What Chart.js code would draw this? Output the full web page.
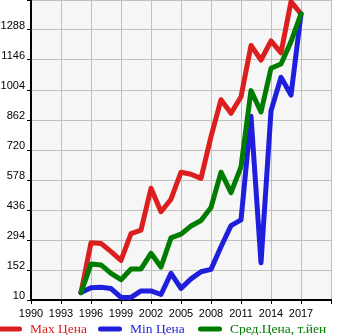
<!DOCTYPE html>
<html>
<head>
<meta charset="utf-8">
<script src="https://cdn.jsdelivr.net/npm/chart.js@4"></script>
<style>
  html, body { margin: 0; padding: 0; background: #fff; }
  #wrap { width: 345px; height: 335px; position: relative; }
</style>
</head>
<body>
<div id="wrap"><canvas id="c" width="345" height="335"></canvas></div>
<script>
// Years of the price history
const years = [1995, 1996, 1997, 1998, 1999, 2000, 2001, 2002, 2003, 2004, 2005, 2006,
               2007, 2008, 2009, 2010, 2011, 2012, 2013, 2014, 2015, 2016, 2017];

// Prices, thousand yen
const maxPrice = [45, 281, 278, 239, 197, 324, 341, 539, 428, 487, 615, 605,
                  586, 783, 958, 894, 972, 1215, 1146, 1236, 1180, 1422, 1364];
const minPrice = [45, 68, 70, 64, 22, 22, 53, 53, 36, 136, 65, 110,
                  144, 155, 262, 362, 389, 880, 186, 905, 1064, 980, 1364];
const avgPrice = [45, 180, 176, 136, 106, 157, 157, 231, 166, 304, 322, 360,
                  386, 448, 615, 518, 640, 1001, 900, 1107, 1127, 1233, 1364];

// Axis ticks
const xTicks = [1990, 1993, 1996, 1999, 2002, 2005, 2008, 2011, 2014, 2017, 2020];
const xTickLabels = ['1990', '1993', '1996', '1999', '2002', '2005', '2008', '2011', '2014', '2017', ''];
const yTicks = [10, 152, 294, 436, 578, 720, 862, 1004, 1146, 1288, 1430];
const yTickLabels = ['10', '152', '294', '436', '578', '720', '862', '1004', '1146', '1288', ''];

const seriesNames = ['Max Цена', 'Min Цена', 'Сред.Цена, т.йен'];
const seriesColors = ['#dc1e1e', '#1e1edc', '#007d00'];

const toPoints = arr => arr.map((v, i) => ({ x: years[i], y: v }));

// Light plot background
const plotBg = {
  id: 'plotBg',
  beforeDraw(chart) {
    const { ctx, chartArea: a } = chart;
    ctx.save();
    ctx.fillStyle = '#f6f6f6';
    ctx.fillRect(a.left, a.top, a.right - a.left, a.bottom - a.top);
    ctx.restore();
  }
};

// Legend row under the axis: round-capped line sample + label in each column
const lineLegend = {
  id: 'lineLegend',
  afterDraw(chart) {
    const ctx = chart.ctx;
    ctx.save();
    chart.data.datasets.forEach((ds, i) => {
      const x0 = 100 * i;
      const y = 329;
      ctx.strokeStyle = ds.borderColor;
      ctx.lineWidth = 5;
      ctx.lineCap = 'round';
      ctx.beginPath();
      ctx.moveTo(x0 + 0.5, y);
      ctx.lineTo(x0 + 19.5, y);
      ctx.stroke();
      ctx.fillStyle = ds.borderColor;
      ctx.font = '13.5px "Liberation Serif", "Times New Roman", serif';
      ctx.textBaseline = 'alphabetic';
      ctx.textAlign = 'left';
      ctx.fillText(ds.label, x0 + 30, 333);
    });
    ctx.restore();
  }
};

const makeSet = (i, data, order) => ({
  label: seriesNames[i],
  data: toPoints(data),
  borderColor: seriesColors[i],
  backgroundColor: seriesColors[i],
  borderWidth: 5,
  borderJoinStyle: 'round',
  borderCapStyle: 'round',
  pointRadius: 0,
  tension: 0,
  clip: false,
  order: order
});

new Chart(document.getElementById('c'), {
  type: 'line',
  data: {
    datasets: [
      makeSet(0, maxPrice, 2),
      makeSet(1, minPrice, 1),
      makeSet(2, avgPrice, 0)
    ]
  },
  options: {
    responsive: false,
    animation: false,
    devicePixelRatio: 1,
    layout: { padding: { left: 0, right: 14, top: 0, bottom: 15 } },
    plugins: {
      legend: { display: false },
      tooltip: { enabled: false }
    },
    scales: {
      x: {
        type: 'linear',
        min: 1990,
        max: 2020,
        afterBuildTicks: s => { s.ticks = xTicks.map(v => ({ value: v })); },
        afterFit: s => { s.height = 20; s.paddingLeft = 0; s.paddingRight = 0; },
        grid: { color: '#c0c0c0', lineWidth: 1, tickColor: '#000', tickLength: 4, drawTicks: true },
        border: { color: '#000', width: 2 },
        ticks: {
          padding: 3,
          maxRotation: 0,
          autoSkip: false,
          color: '#000',
          font: { family: '"Liberation Sans", Arial, sans-serif', size: 11 },
          callback: (v, i) => xTickLabels[i]
        }
      },
      y: {
        type: 'linear',
        min: 10,
        max: 1430,
        afterBuildTicks: s => { s.ticks = yTicks.map(v => ({ value: v })); },
        afterFit: s => { s.width = 31; s.paddingTop = 0; s.paddingBottom = 0; },
        grid: { color: '#c0c0c0', lineWidth: 1, tickColor: '#000', tickLength: 4, drawTicks: true },
        border: { color: '#000', width: 2 },
        ticks: {
          padding: 2,
          labelOffset: -4,
          autoSkip: false,
          color: '#000',
          font: { family: '"Liberation Sans", Arial, sans-serif', size: 11 },
          callback: (v, i) => yTickLabels[i]
        }
      }
    }
  },
  plugins: [plotBg, lineLegend]
});
</script>
</body>
</html>
